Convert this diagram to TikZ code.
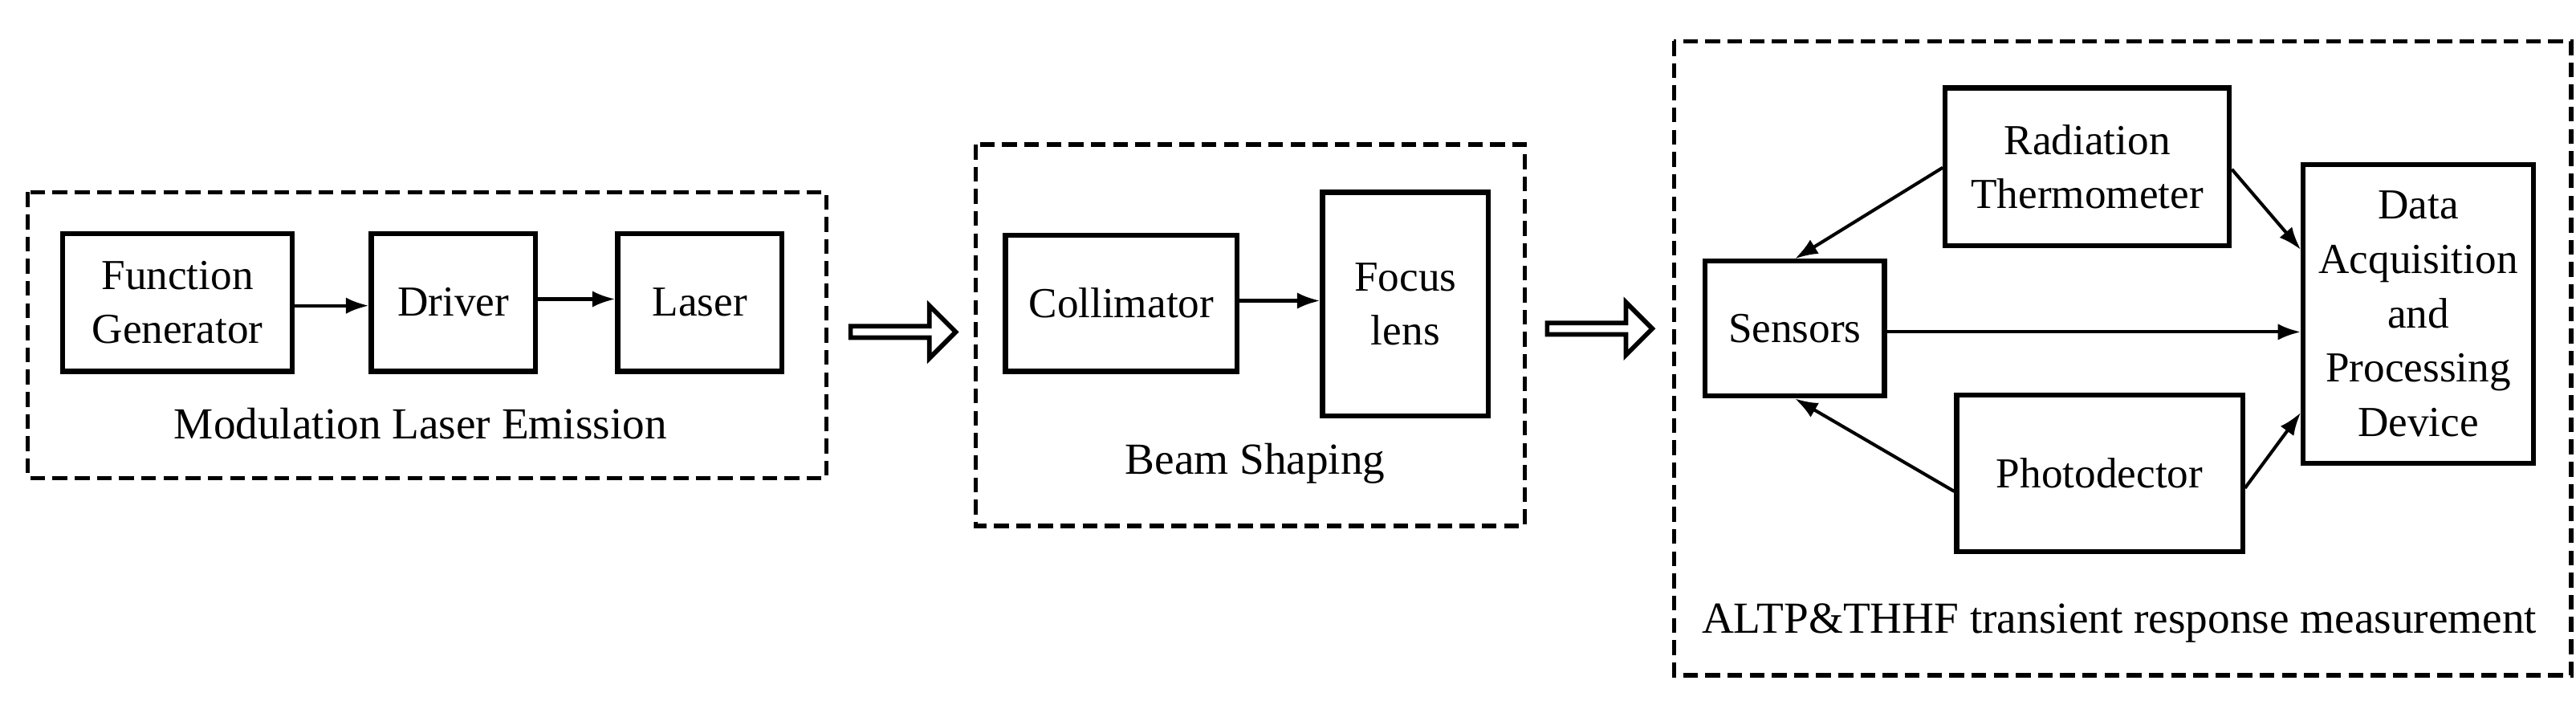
\documentclass[tikz,border=0pt]{standalone}
\usepackage{fontspec}
\setmainfont{Liberation Serif}
\usetikzlibrary{shapes.arrows,arrows.meta}
\tikzset{
  blk/.style={draw,line width=3pt,align=center,inner sep=0pt,font=\fontsize{26}{33}\selectfont},
  grp/.style={draw,line width=2.6pt,dash pattern=on 9pt off 4.5pt},
  lbl/.style={font=\fontsize{27}{33}\selectfont},
  link/.style={-{Latex[length=14pt,width=10pt]},line width=2pt},
  fat/.style={draw,line width=2.8pt,single arrow,minimum width=32pt,single arrow head extend=5pt,minimum height=64pt,inner sep=0pt}
}
\begin{document}
\begin{tikzpicture}[x=1pt,y=-1pt]
  \useasboundingbox (0,0) rectangle (1568,429);
%%
  % Group: Modulation Laser Emission
  \draw [grp] (17,117) rectangle (503,291);
  \node [lbl] (emis) at (256,258) {Modulation Laser Emission};
  \node [blk,minimum width=140pt,minimum height=84pt] (fg) at (108,184) {Function\\Generator};
  \node [blk,minimum width=100pt,minimum height=84pt] (drv) at (276,184) {Driver};
  \node [blk,minimum width=100pt,minimum height=84pt] (las) at (426,184) {Laser};
  % Group: Beam Shaping
  \draw [grp] (594,88) rectangle (928,320);
  \node [lbl] (shap) at (764,282) {Beam Shaping};
  \node [blk,minimum width=141pt,minimum height=83pt] (col) at (682.5,184.5) {Collimator};
  \node [blk,minimum width=101pt,minimum height=136pt] (foc) at (855.5,185) {Focus\\lens};
  % Group: ALTP&THHF transient response measurement
  \draw [grp] (1019,25) rectangle (1565,411);
  \node [lbl] (meas) at (1290,379) {ALTP\&THHF transient response measurement};
  \node [blk,minimum width=173pt,minimum height=96pt] (rt) at (1270.5,101.5) {Radiation\\Thermometer};
  \node [blk,minimum width=109pt,minimum height=82pt] (sen) at (1092.5,200) {Sensors};
  \node [blk,minimum width=174pt,minimum height=95pt] (pd) at (1278,288) {Photodector};
  \node [blk,minimum width=140pt,minimum height=182pt] (daq) at (1472,191) {Data\\Acquisition\\and\\Processing\\Device};
  % Hollow arrows between groups
  \node [fat] (h1) at (548,202) {};
  \node [fat] (h2) at (972,200) {};
%%
  % Edge: fg -> drv
  \draw [link] (fg.east |- 0,186) -- (drv.west |- 0,186);
  % Edge: drv -> las
  \draw [link] (drv.east |- 0,182) -- (las.west |- 0,182);
  % Edge: col -> foc
  \draw [link] (col.east |- 0,183) -- (foc.west |- 0,183);
  % Edge: rt -> sen
  \draw [link] (rt.west |- 0,102) -- (sen.north);
  % Edge: rt -> daq
  \draw [link] (rt.east |- 0,103) -- (daq.west |- 0,152);
  % Edge: sen -> daq
  \draw [link] (sen.east |- 0,202) -- (daq.west |- 0,202);
  % Edge: pd -> sen
  \draw [link] (pd.west |- 0,299) -- (sen.south);
  % Edge: pd -> daq
  \draw [link] (pd.east |- 0,297) -- (daq.west |- 0,251);
%
\end{tikzpicture}
\end{document}
